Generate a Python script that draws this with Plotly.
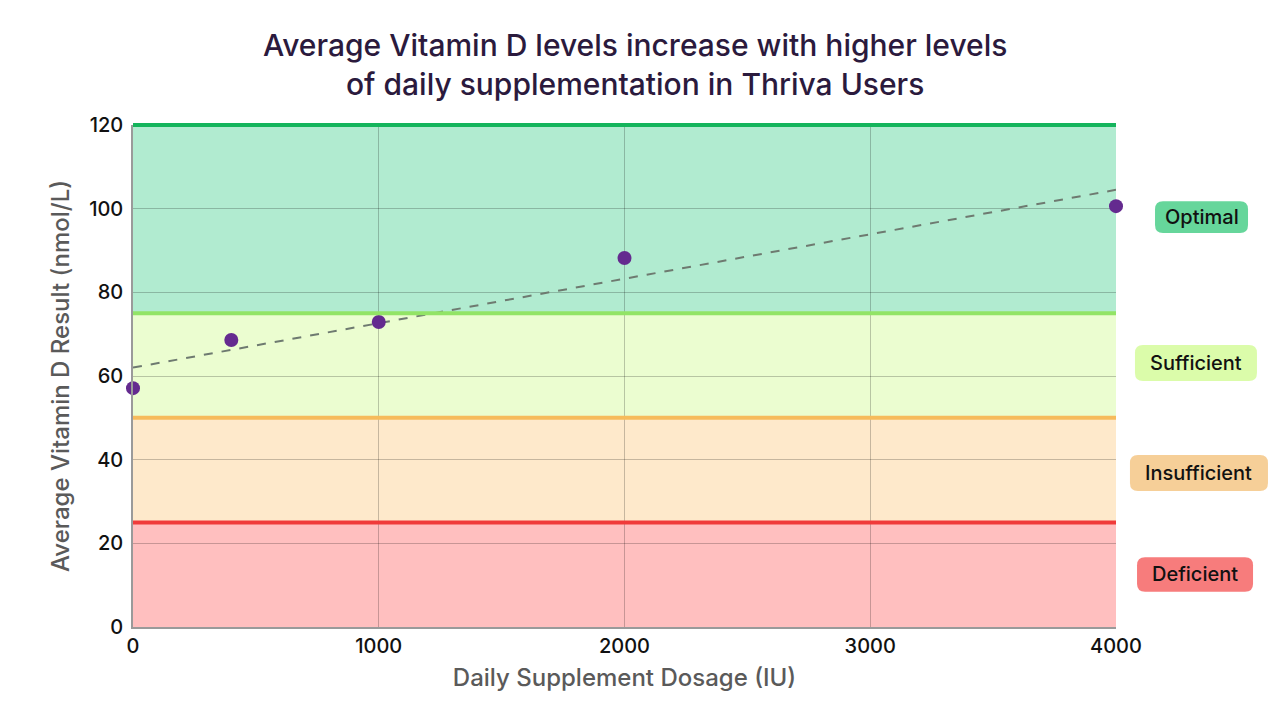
import plotly.graph_objects as go

# Data
dose = [0, 400, 1000, 2000, 4000]
vitd = [57.1, 68.6, 72.9, 88.2, 100.6]
trend_x = [0, 4000]
trend_y = [62.0, 104.5]

band_names = ["Deficient", "Insufficient", "Sufficient", "Optimal"]
band_low = [0, 25, 50, 75]
band_high = [25, 50, 75, 120]
band_fill = ["#ffbfbf", "#fee9cb", "#ebfdd0", "#b1ebd0"]
band_line = ["#f03a3a", "#f6bb5c", "#92e466", "#14b45c"]
label_bg = ["#f77c7c", "#f6cf98", "#dbfcaa", "#66d69b"]
label_y = [12.6, 36.8, 63.1, 98.0]
# label box extents (paper x, data y)
label_x0 = [1.0214, 1.0142, 1.0193, 1.0397]
label_x1 = [1.1394, 1.1546, 1.1434, 1.1343]
label_y0 = [8.4, 32.5, 58.8, 94.2]
label_y1 = [16.7, 41.1, 67.4, 101.8]

Y_RANGE = [0, 120]
X_RANGE = [0, 4000]
FONT = "Inter, Lato, sans-serif"

fig = go.Figure()

shapes = []
for lo, hi, fc in zip(band_low, band_high, band_fill):
    shapes.append(dict(type="rect", xref="x", yref="y", x0=X_RANGE[0], x1=X_RANGE[1], y0=lo, y1=hi,
                       fillcolor=fc, line=dict(width=0), layer="below"))
for hi, lc in zip(band_high, band_line):
    yp = (hi - Y_RANGE[0]) / (Y_RANGE[1] - Y_RANGE[0])
    shapes.append(dict(type="line", xref="paper", yref="paper", x0=0, x1=1, y0=yp, y1=yp,
                       line=dict(color=lc, width=4), layer="above"))

# rounded label boxes
rx = 8 / 983.0
ry = 8 / 4.183
for x0, x1, y0, y1, bg in zip(label_x0, label_x1, label_y0, label_y1, label_bg):
    path = (f"M {x0+rx},{y0} L {x1-rx},{y0} Q {x1},{y0} {x1},{y0+ry} "
            f"L {x1},{y1-ry} Q {x1},{y1} {x1-rx},{y1} "
            f"L {x0+rx},{y1} Q {x0},{y1} {x0},{y1-ry} "
            f"L {x0},{y0+ry} Q {x0},{y0} {x0+rx},{y0} Z")
    shapes.append(dict(type="path", xref="paper", yref="y", path=path,
                       fillcolor=bg, line=dict(width=0), layer="above"))

fig.add_trace(go.Scatter(x=trend_x, y=trend_y, mode="lines",
                         line=dict(color="#6e7a70", width=2, dash="dash"),
                         hoverinfo="skip", showlegend=False))
fig.add_trace(go.Scatter(x=dose, y=vitd, mode="markers",
                         marker=dict(color="#642a8f", size=14),
                         cliponaxis=False, showlegend=False))

annotations = []
for name, ly, x0, x1 in zip(band_names, label_y, label_x0, label_x1):
    annotations.append(dict(x=(x0 + x1) / 2, xref="paper", y=ly, yref="y", text=name,
                            showarrow=False, xanchor="center", yanchor="middle",
                            font=dict(family=FONT, size=20, color="#111111", weight=500)))

fig.update_layout(
    width=1280, height=720,
    margin=dict(l=125, r=172, t=117, b=101, autoexpand=False),
    paper_bgcolor="white", plot_bgcolor="white",
    title=dict(text="Average Vitamin D levels increase with higher levels<br>of daily supplementation in Thriva Users",
               x=0.49, xanchor="center", y=0.934, yanchor="top",
               font=dict(family=FONT, size=30, color="#2b1a3d", weight=500)),
    shapes=shapes,
    annotations=annotations,
    xaxis=dict(range=X_RANGE, tickvals=[0, 1000, 2000, 3000, 4000],
               showgrid=True, gridcolor="rgba(0,0,0,0.22)", gridwidth=1,
               zeroline=False, showline=True, linecolor="#9a9a9a", linewidth=1.5,
               automargin=False,
               tickfont=dict(family=FONT, size=20, color="#111111", weight=500),
               title=dict(text="Daily Supplement Dosage (IU)", standoff=12,
                          font=dict(family=FONT, size=24, color="#5a5a5a", weight=500))),
    yaxis=dict(range=Y_RANGE, tickvals=[0, 20, 40, 60, 80, 100, 120],
               showgrid=True, gridcolor="rgba(0,0,0,0.22)", gridwidth=1,
               zeroline=False, showline=True, linecolor="#9a9a9a", linewidth=1.5,
               automargin=False,
               tickfont=dict(family=FONT, size=20, color="#111111", weight=500),
               ticklabelstandoff=4,
               title=dict(text="Average Vitamin D Result (nmol/L)", standoff=13,
                          font=dict(family=FONT, size=24, color="#5a5a5a", weight=500))),
)

fig.write_html("out.html")
